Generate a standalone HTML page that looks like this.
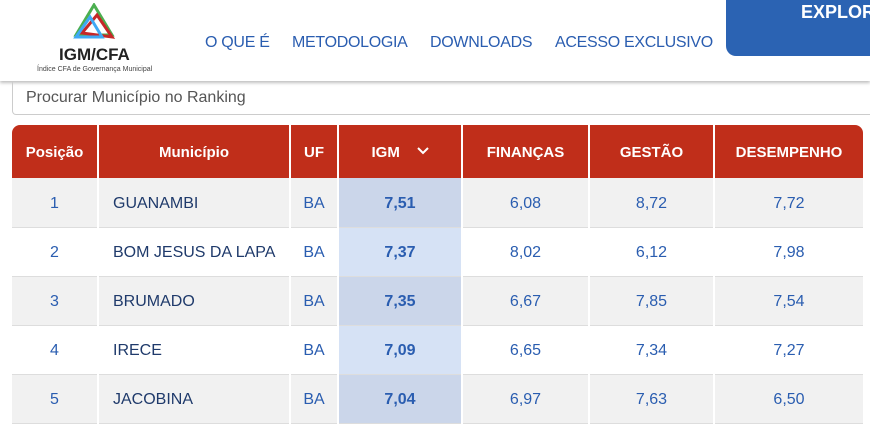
<!DOCTYPE html>
<html><head><meta charset="utf-8"><style>
body{margin:0;width:870px;height:420px;overflow:hidden;background:#fff;font-family:"Liberation Sans",sans-serif;position:relative}
.hdr{position:absolute;left:0;top:0;width:870px;height:81px;background:#fff;box-shadow:0 2px 3px rgba(0,0,0,.25)}
.nav{position:absolute;top:34px;font-size:16px;color:#2a5db0;letter-spacing:-0.3px}
.btn{position:absolute;left:726px;top:0;width:150px;height:56px;background:#2b63b3;border-radius:0 0 0 10px;color:#fff;font-weight:bold;font-size:18px;padding-left:75px;box-sizing:border-box;padding-top:2px}
.search{position:absolute;left:12px;top:82px;width:870px;height:33px;border:1px solid #ccc;border-top:none;border-radius:0 0 0 4px;font-size:16px;color:#555;padding:7px 0 0 13px;box-sizing:border-box}
table{position:absolute;left:12px;top:125px;border-collapse:collapse;table-layout:fixed;width:851px}
th{background:#c02e1a;color:#fff;font-weight:bold;font-size:15px;height:53px;border-left:2px solid #fff;padding:2px 0 0 0;box-sizing:border-box}
th:first-child{border-left:none;border-top-left-radius:8px}
th:last-child{border-top-right-radius:8px}
td{height:49px;border-left:2px solid #fff;border-bottom:1px solid #ddd;text-align:center;font-size:16px;color:#2a5db0;padding:3px 0 0 0;box-sizing:border-box}
td:first-child{border-left:none}
tr.o td{background:#f1f1f1}
tr.e td{background:#fff}
tr.o td.g{background:#cbd6ea}
tr.e td.g{background:#d6e2f5}
td.g{font-weight:bold}
td.m{text-align:left;padding-left:14px;color:#1f3a6b}
</style></head><body>
<div class="hdr">
<svg style="position:absolute;left:72px;top:3px" width="44" height="36" viewBox="0 0 44 36"><polygon points="22,2 40,32 4,32" fill="none" stroke="#4caf50" stroke-width="3"/><polygon points="25,12 40,34 10,30" fill="none" stroke="#c62828" stroke-width="3"/><polygon points="18,14 30,34 4,34" fill="none" stroke="#3fa9f5" stroke-width="3"/></svg>
<div style="position:absolute;left:59px;top:45px;font-weight:bold;font-size:17px;color:#222">IGM/CFA</div>
<div style="position:absolute;left:37px;top:66px;font-size:7px;color:#444">Índice CFA de Governança Municipal</div>
<div class="nav" style="left:205px">O QUE É</div>
<div class="nav" style="left:292px">METODOLOGIA</div>
<div class="nav" style="left:430px">DOWNLOADS</div>
<div class="nav" style="left:555px">ACESSO EXCLUSIVO</div>
<div class="btn">EXPLORE</div>
</div>
<div class="search">Procurar Município no Ranking</div>
<table>
<colgroup><col style="width:86px"><col style="width:192px"><col style="width:48px"><col style="width:124px"><col style="width:127px"><col style="width:125px"><col style="width:149px"></colgroup>
<tr><th>Posição</th><th>Município</th><th>UF</th><th>IGM &nbsp;&nbsp;&nbsp;<svg width="12" height="8" viewBox="0 0 12 8" style="vertical-align:2px"><polyline points="1,1 6,6 11,1" fill="none" stroke="#fff" stroke-width="2"/></svg></th><th>FINANÇAS</th><th>GESTÃO</th><th>DESEMPENHO</th></tr>
<tr class="o"><td>1</td><td class="m">GUANAMBI</td><td>BA</td><td class="g">7,51</td><td>6,08</td><td>8,72</td><td>7,72</td></tr>
<tr class="e"><td>2</td><td class="m">BOM JESUS DA LAPA</td><td>BA</td><td class="g">7,37</td><td>8,02</td><td>6,12</td><td>7,98</td></tr>
<tr class="o"><td>3</td><td class="m">BRUMADO</td><td>BA</td><td class="g">7,35</td><td>6,67</td><td>7,85</td><td>7,54</td></tr>
<tr class="e"><td>4</td><td class="m">IRECE</td><td>BA</td><td class="g">7,09</td><td>6,65</td><td>7,34</td><td>7,27</td></tr>
<tr class="o"><td>5</td><td class="m">JACOBINA</td><td>BA</td><td class="g">7,04</td><td>6,97</td><td>7,63</td><td>6,50</td></tr>
</table>
</body></html>
